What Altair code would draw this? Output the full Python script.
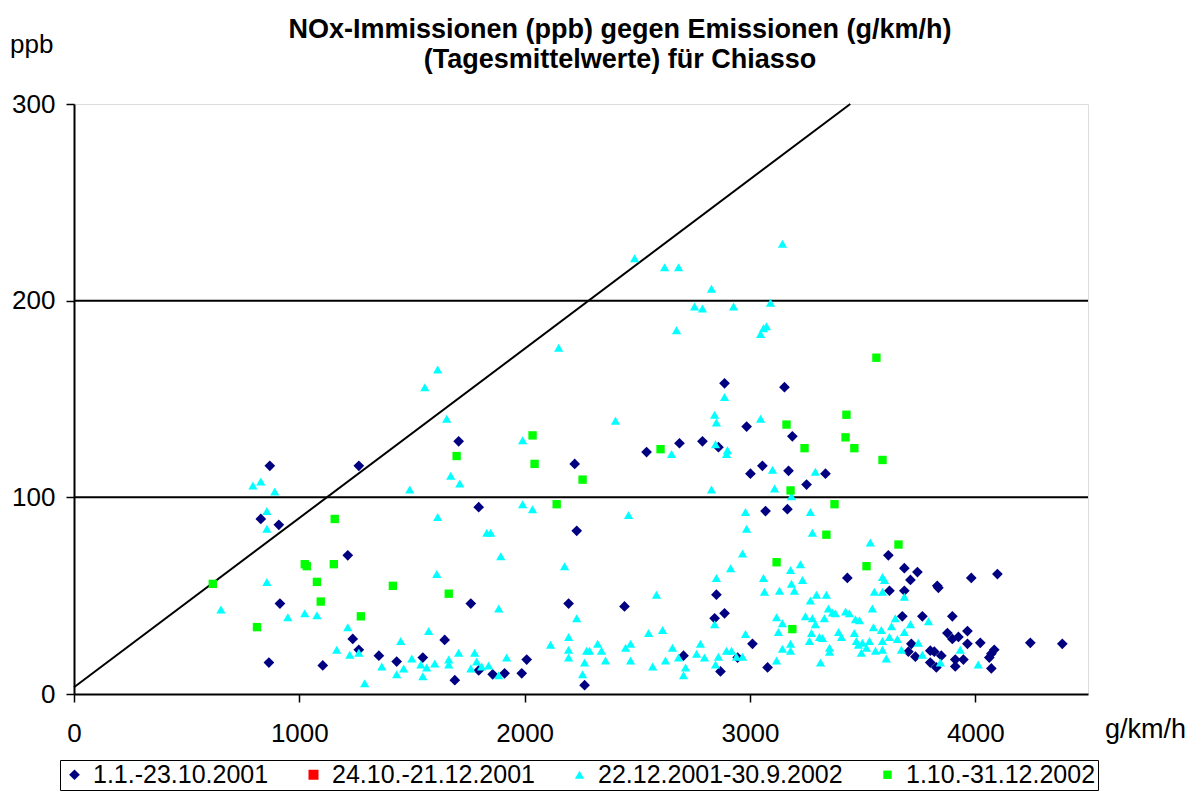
import altair as alt
import pandas as pd

# ---- series labels ----
SERIES = ["1.1.-23.10.2001", "24.10.-21.12.2001", "22.12.2001-30.9.2002", "1.10.-31.12.2002"]
COLORS = ["#000080", "#FF0000", "#00FFFF", "#00FF00"]
SHAPES = ["diamond", "square", "triangle-up", "square"]
SIZES = [115, 70, 150, 72]

# ---- series 1: 1.1.-23.10.2001 (navy diamonds) ----
s1_x = [869, 829, 909, 914, 865, 1104,
        1707, 1264, 2222, 1796, 2231, 1215, 1761, 2195,
        1237, 1645, 1264, 1353, 1432, 1548, 2009, 1796, 1858, 1911, 1987, 2266, 1690,
        2887, 3153, 2985,
        3188, 2541, 2687, 2789, 2860, 3002, 3055, 3171, 3335, 3251, 3069, 3166, 3432, 2851, 2443, 2887, 2843,
        3011, 2705, 2945, 2869, 3078,
        3614, 3685, 3743, 3712, 3831, 3836, 3982, 4098, 3619, 3685, 3676, 3765, 3898, 3876, 3965, 3898, 3925,
        3965, 4022, 4244, 4386, 3716, 3703, 3734, 3800, 3818, 3849, 3800, 3827, 3911, 3911, 3947, 4062, 4071,
        4084, 4071]
s1_y = [116, 89, 86, 46, 16, 14.5,
        128.5, 116, 117, 95, 83, 70.5, 46, 46,
        28, 27.5, 22.5, 19.5, 16.5, 18.5, 17.5, 12, 10, 10.5, 10.5, 4.5, 7,
        158, 156, 136,
        131, 123, 127.5, 128.5, 125.5, 112, 116, 113.5, 112, 106.5, 93, 94, 59, 50.5, 44.5, 41, 38.5,
        25.5, 19.5, 18.5, 11.5, 13.5,
        70.5, 64, 62, 58, 55, 54, 59, 61, 52.5, 52.5, 39.5, 39.5, 39.5, 31, 32, 28, 29,
        25.5, 26, 26, 25.5, 25.5, 21.5, 19, 22, 21.5, 19.5, 16, 13.5, 17.5, 14, 17.5, 18.5, 20.5,
        22.5, 13]

# ---- series 2: 24.10.-21.12.2001 (red squares, no visible points) ----
s2_x = []
s2_y = []

# ---- series 3: 22.12.2001-30.9.2002 (cyan triangles) ----
s3_x = [2488, 2621, 2683, 2829, 3144, 2754, 2789, 2927, 3091, 2674, 3073, 3060, 3047, 2887, 2403, 2843, 2851, 3047,
        1614, 1557, 1654, 2151,
        794, 829, 891, 856, 856, 856, 652, 949, 1024, 1078,
        1991, 1672, 1712, 1490, 1991, 2035, 1614, 1832, 1849, 1894, 2177, 1610, 1885, 2231, 1215, 1574, 1450,
        2195, 2115, 1166, 1264, 1224, 2195, 2275, 1707, 1778, 1499, 1920, 2195, 1366, 1463, 1539, 1565, 1601,
        1663, 1663, 1787, 1761, 1809, 1840, 1885, 2266, 2257, 1432, 1548, 1290,
        2847, 2652, 2900, 2896, 3100, 3290, 3109, 2829, 3184, 2980, 3268, 2461, 2985, 3277, 2967, 2914, 3224,
        3180, 2851, 3060, 3233, 3184, 3064, 3131, 3197, 2585, 3268, 3295, 3339, 3348, 3366, 3379, 3424, 2843,
        3118, 3144, 3246, 3277, 3330, 3290, 3393, 3406, 3126, 3273, 3308, 3322, 3264, 2980, 3180, 3180, 3144,
        3353, 3353, 2550, 2612, 2324, 2288, 2341, 2359, 2448, 2470, 2470, 2656, 2780, 2763, 2798, 2683, 2625,
        2568, 2860, 2896, 2918, 2940, 2967, 2847, 2714, 2705, 3118, 3313,
        3534, 3588, 3597, 3552, 3588, 3685, 3543, 3441, 3468, 3486, 3548, 3583, 3645, 3628, 3712, 3685, 3792,
        3747, 3765, 3845, 3933, 4013, 3463, 3472, 3499, 3517, 3494, 3530, 3557, 3588, 3588, 3619, 3654, 3672,
        3605, 3481]
s3_y = [221.6, 217, 217, 206, 229, 197, 196, 197, 199, 185, 187, 186, 183, 151, 139, 142, 138, 140,
        165, 156, 140, 176,
        106, 108, 103, 93, 84, 57, 43, 39, 41, 40,
        129, 111, 107, 104, 96.5, 94, 90, 82, 82, 70, 65, 61, 43.5, 38.5, 34, 32, 27,
        29, 25, 22.5, 21, 20, 22.5, 22, 21, 21, 18, 18.5, 18.5, 14, 13, 15, 13.5, 15.5,
        17.5, 15, 16.5, 13, 14, 14.5, 9.5, 16, 10, 10, 9, 5.5,
        127, 122, 124, 122, 114, 113, 104.5, 104, 100.5, 92.5, 92.5, 91, 84, 82, 71.5, 64, 66,
        63, 59, 59, 58, 56, 52, 52.5, 52.5, 50.5, 47.5, 50.5, 50.5, 43.5, 41.5, 41, 42, 35.5,
        39, 36, 39.5, 38.5, 38.5, 35.5, 31.5, 29, 31.5, 31, 29, 28.5, 27, 30.5, 25.5, 22, 23,
        23.5, 21.5, 31, 32.5, 25.5, 22, 22, 17, 23.5, 25.5, 17, 23.5, 25.5, 20.5, 18.5, 18.5, 17,
        14, 19, 22, 22, 19, 19, 15, 13.5, 9.5, 17, 16,
        77, 59.5, 58, 52, 52, 49.5, 43.5, 41, 38, 37.5, 34, 32.5, 38.5, 34.5, 35.5, 31.5, 37,
        26, 20, 16, 22.5, 15, 31, 27, 26, 23.5, 21, 27, 22, 22.5, 27, 29, 28, 22.5,
        18, 25]

# ---- series 4: 1.10.-31.12.2002 (green squares) ----
s4_x = [3561, 3428, 3162, 616, 1024, 1033, 1078, 1095, 812, 1157, 1153, 2035, 1698, 2044, 2257, 2142,
        1415, 1663, 1273, 3424, 2603, 3242, 3180, 3375, 3339, 3118, 3188, 3463, 3588, 3659, 3517]
s4_y = [171, 142, 137, 56, 66, 65, 57, 47, 34, 89, 66, 131.5, 121, 117, 109, 96.5,
        55, 51, 39.5, 130.5, 124.5, 125, 103.5, 96.5, 81, 67, 33, 125, 119, 76, 65]

# ---- reference line end points and horizontal grid values ----
line_x = [0, 3445]
line_y = [3.4, 300]
grid_y = [100, 200]

X_TICKS = [0, 1000, 2000, 3000, 4000]
Y_TICKS = [0, 100, 200, 300]

rows = []
for name, xs, ys in zip(SERIES, [s1_x, s2_x, s3_x, s4_x], [s1_y, s2_y, s3_y, s4_y]):
    for a, b in zip(xs, ys):
        rows.append({"x": a, "y": b, "series": name})
pts = pd.DataFrame(rows)

W, H = 1014, 590
FONT = "Liberation Sans"

xscale = alt.Scale(domain=[0, 4500], nice=False, zero=False)
yscale = alt.Scale(domain=[0, 300], nice=False, zero=False)

xaxis = alt.Axis(values=X_TICKS, title=None, grid=False, domainColor="black", domainWidth=2,
                 tickColor="black", tickWidth=1.5, tickSize=8, labelFontSize=26, labelFont=FONT,
                 labelColor="black", labelPadding=18, labelFlush=False, format="d")
yaxis = alt.Axis(values=Y_TICKS, title=None, grid=False, domainColor="black", domainWidth=2,
                 tickColor="black", tickWidth=1.5, tickSize=8, labelFontSize=26, labelFont=FONT,
                 labelColor="black", labelPadding=11, labelFlush=False, format="d")

grid = alt.Chart(pd.DataFrame({"g": grid_y})).mark_rule(color="black", strokeWidth=2).encode(
    y=alt.Y("g:Q", scale=yscale, axis=yaxis)
)

diag = alt.Chart(pd.DataFrame({"x": line_x, "y": line_y})).mark_line(color="black", strokeWidth=2).encode(
    x=alt.X("x:Q", scale=xscale, axis=xaxis),
    y=alt.Y("y:Q", scale=yscale, axis=yaxis),
)

legend = alt.Legend(title=None, orient="none", legendX=-14, legendY=656, direction="horizontal",
                    labelFontSize=25, labelFont=FONT, labelColor="black", symbolSize=55,
                    symbolStrokeWidth=0, labelOffset=6, columnPadding=32, padding=2,
                    strokeColor="black", fillColor="white", labelLimit=400)

points = alt.Chart(pts).mark_point(filled=True, opacity=1).encode(
    x=alt.X("x:Q", scale=xscale, axis=xaxis),
    y=alt.Y("y:Q", scale=yscale, axis=yaxis),
    color=alt.Color("series:N", scale=alt.Scale(domain=SERIES, range=COLORS), legend=legend),
    shape=alt.Shape("series:N", scale=alt.Scale(domain=SERIES, range=SHAPES), legend=legend),
    size=alt.Size("series:N", scale=alt.Scale(domain=SERIES, range=SIZES), legend=None),
)

def label(text, x, y, size=26, bold=False, align="left"):
    return alt.Chart(pd.DataFrame({"t": [text]})).mark_text(
        font=FONT, fontSize=size, fontWeight="bold" if bold else "normal", align=align,
        baseline="middle", color="black"
    ).encode(text="t:N", x=alt.value(x), y=alt.value(y))

title1 = label("NOx-Immissionen (ppb) gegen Emissionen (g/km/h)", 546, -74, 27, True, "center")
title2 = label("(Tagesmittelwerte) für Chiasso", 546, -44, 27, True, "center")
ppb = label("ppb", -64, -59)
gkm = label("g/km/h", 1031, 626, 27)

chart = alt.layer(grid, diag, points, title1, title2, ppb, gkm).properties(
    width=W, height=H,
    autosize=alt.AutoSizeParams(type="none"),
    padding={"left": 66, "top": 96, "right": 102, "bottom": 100},
).configure_view(stroke="#808080", strokeWidth=2).configure(background="white")

chart.save("out.html", embed_options={"renderer": "svg", "actions": False})
